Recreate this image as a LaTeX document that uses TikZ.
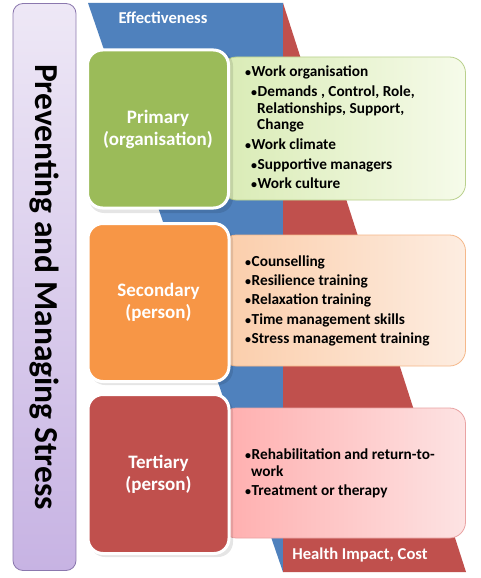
\documentclass[tikz,border=0pt]{standalone}
\usepackage{fontspec}
\setmainfont{Carlito}
\definecolor{cblue}{HTML}{4F81BD}
\definecolor{cred}{HTML}{C0504D}
\definecolor{cgreen}{HTML}{9BBB59}
\definecolor{corange}{HTML}{F79646}
\definecolor{purpborder}{HTML}{8B78AE}
\definecolor{purptop}{HTML}{EEE8F6}
\definecolor{purpbot}{HTML}{C7B3E3}
\definecolor{glistL}{HTML}{D9EBB5}
\definecolor{glistR}{HTML}{F6FBEA}
\definecolor{glistB}{HTML}{B9D08C}
\definecolor{olistL}{HTML}{FBCDAA}
\definecolor{olistR}{HTML}{FDEDE1}
\definecolor{olistB}{HTML}{F5B88A}
\definecolor{plistL}{HTML}{FFAEAE}
\definecolor{plistR}{HTML}{FDE3E3}
\definecolor{plistB}{HTML}{E9A3A3}
\newcommand{\bul}{{\fontsize{12}{12}\selectfont•}\hspace{0.5pt}}
\begin{document}
\begin{tikzpicture}[x=1pt,y=-1pt,
  lvl/.style={draw=white, line width=3pt, rounded corners=15pt, minimum width=141pt, minimum height=158pt,
    text=white, font=\bfseries\fontsize{19}{22}\selectfont, align=center, inner sep=0pt},
  lst/.style={rounded corners=16pt, line width=0.8pt, minimum width=245pt, inner sep=0pt},
  itm/.style={anchor=west, font=\bfseries\fontsize{15.3}{17}\selectfont, text height=11pt, text depth=2pt, inner sep=0pt},
  shd/.style={fill=black, opacity=0.1, rounded corners=15pt},
  band/.style={text=white, font=\bfseries\fontsize{16.6}{19}\selectfont}]
\useasboundingbox (0,0) rectangle (480,578);
\fill[white] (0,0) rectangle (480,578);
% purple bar
\node[draw=purpborder, line width=0.8pt, rounded corners=10pt, top color=purptop, bottom color=purpbot,
  minimum width=63pt, minimum height=567pt, inner sep=0pt] (bar) at (44.5,287) {};
\node[rotate=-90, font=\bfseries\fontsize{33.5}{36}\selectfont] (title) at (bar.center) {Preventing and Managing Stress};
% blue and red bands
\fill[cblue] (88,3) coordinate (b1) -- (283,3) coordinate (b2) -- (283,572) coordinate (b3) -- cycle;
\fill[cred] (283,3) -- (283,572) -- (466,572) -- cycle;
\node[band] (eff) at (163,18) {Effectiveness};
\node[band] (hic) at (360,555) {Health Impact, Cost};
% list boxes
\node[lst, draw=glistB, left color=glistL, right color=glistR, minimum height=143pt] (l1) at (343,128.5) {};
\node[lst, draw=olistB, left color=olistL, right color=olistR, minimum height=131pt] (l2) at (343,300.5) {};
\node[lst, draw=plistB, left color=plistL, right color=plistR, minimum height=130pt] (l3) at (343,473) {};
% shadows of level boxes
\fill[shd] (89,51) rectangle (233,213);
\fill[shd] (90,226) rectangle (233,385);
\fill[shd] (90,397) rectangle (233,557);
% level boxes
\node[lvl, fill=cgreen] (p) at (158,129) {Primary\\(organisation)};
\node[lvl, fill=corange] (s) at (158.5,302.5) {Secondary\\(person)};
\node[lvl, fill=cred, minimum height=159pt] (t) at (158.5,474) {Tertiary\\(person)};
% primary items
\node[itm] (a1) at (245,72) {\bul Work organisation};
\node[itm] (a2) at (251,92) {\bul Demands , Control, Role,};
\node[itm] (a3) at (257,109) {Relationships, Support,};
\node[itm] (a4) at (257,125) {Change};
\node[itm] (a5) at (245,145) {\bul Work climate};
\node[itm] (a6) at (251,165) {\bul Supportive managers};
\node[itm] (a7) at (251,184) {\bul Work culture};
% secondary items
\node[itm] (b1n) at (245,262) {\bul Counselling};
\node[itm] (b2n) at (245,281) {\bul Resilience training};
\node[itm] (b3n) at (245,300) {\bul Relaxation training};
\node[itm] (b4n) at (245,320) {\bul Time management skills};
\node[itm] (b5n) at (245,339) {\bul Stress management training};
% tertiary items
\node[itm] (c1) at (245,455) {\bul Rehabilitation and return-to-};
\node[itm] (c2) at (251,472) {work};
\node[itm] (c3) at (245,491) {\bul Treatment or therapy};
\end{tikzpicture}
\end{document}
